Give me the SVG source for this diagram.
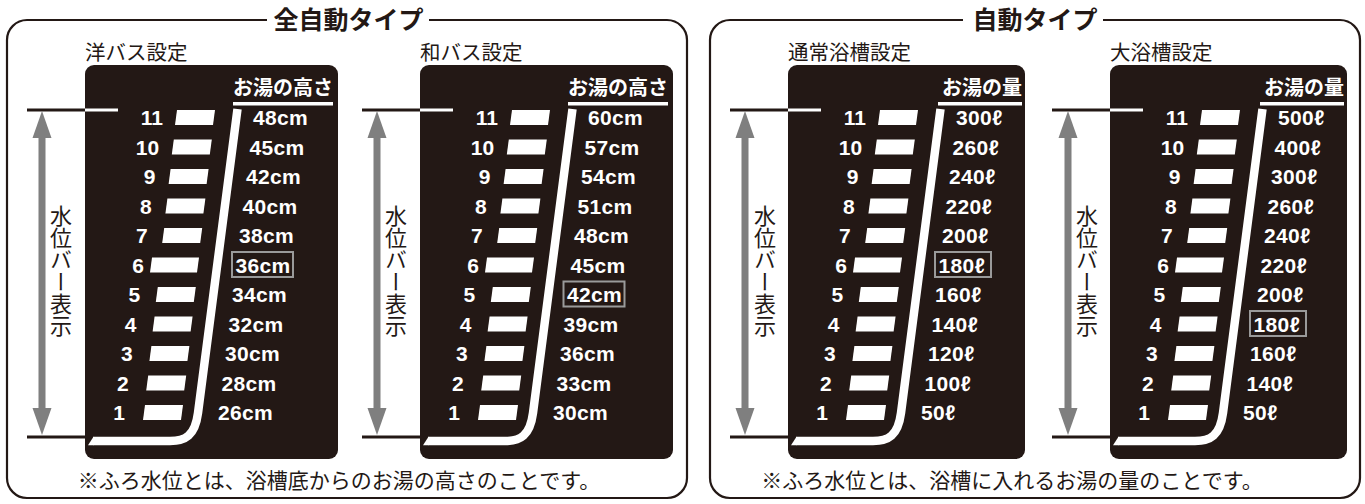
<svg xmlns="http://www.w3.org/2000/svg" xmlns:xlink="http://www.w3.org/1999/xlink" width="1365" height="504" viewBox="0 0 1365 504">
<style>
.frame{fill:none;stroke:#231815;stroke-width:2.2}
.title{font-family:"Noto Sans CJK JP","Noto Sans",sans-serif;font-weight:700;font-size:25px;fill:#231815;text-anchor:middle}
.head{font-family:"Noto Sans CJK JP","Noto Sans",sans-serif;font-size:20.5px;fill:#231815}
.note{font-family:"Noto Sans CJK JP","Noto Sans",sans-serif;font-size:21px;fill:#231815;text-anchor:middle}
.vert{font-family:"Noto Sans CJK JP","Noto Sans",sans-serif;font-size:22px;fill:#231815;writing-mode:vertical-rl}
.box{fill:#231815}
.colh{font-family:"Noto Sans CJK JP","Noto Sans",sans-serif;font-weight:700;font-size:20px;fill:#fff;text-anchor:end}
.num{font-family:"Liberation Sans",Arial,sans-serif;font-weight:700;font-size:21px;fill:#fff;text-anchor:end}
.val{font-family:"Liberation Sans",Arial,"DejaVu Sans",sans-serif;font-weight:700;font-size:21px;fill:#fff;letter-spacing:0.3px}
.hl{fill:none;stroke:#9a9a9a;stroke-width:2}
.lvl{stroke:#231815;stroke-width:3}
.wl{fill:#fff}
.curve{fill:none;stroke:#fff;stroke-width:8.5}
.gray{fill:#7f7f7f}
</style>
<defs>
<g id="bars" class="wl">
<polygon points="90,125 128,125 130,110 92,110"/>
<polygon points="86.8,154.5 124.8,154.5 126.8,139.5 88.8,139.5"/>
<polygon points="83.6,184 121.6,184 123.6,169 85.6,169"/>
<polygon points="80.4,213.5 118.4,213.5 120.4,198.5 82.4,198.5"/>
<polygon points="77.2,243 115.2,243 117.2,228 79.2,228"/>
<polygon points="65,272.5 112,272.5 114,257.5 67,257.5"/>
<polygon points="70.8,302 108.8,302 110.8,287 72.8,287"/>
<polygon points="67.6,331.5 105.6,331.5 107.6,316.5 69.6,316.5"/>
<polygon points="64.4,361 102.4,361 104.4,346 66.4,346"/>
<polygon points="61.2,390.5 99.2,390.5 101.2,375.5 63.2,375.5"/>
<polygon points="58,420 96,420 98,405 60,405"/>
</g>
<g id="waterline">
<rect class="wl" x="0" y="108.5" width="33" height="3"/>
<path class="curve" d="M152.5,109 L113,413 C110,436 100,441 85,441 L8,441"/>
<polygon class="wl" points="3,445.25 8.5,436.75 8.5,445.25"/>
</g>
<g id="vbar" class="gray">
<rect x="-3.5" y="136" width="7" height="274"/>
<polygon points="-9.5,138 0,111 9.5,138"/>
<polygon points="-9.5,408 0,435 9.5,408"/>
</g>
</defs>

<g id="panel-full-auto">
<path class="frame" d="M267,20 H27 A20,20 0 0 0 7,40 V478 A20,20 0 0 0 27,498 H667 A20,20 0 0 0 687,478 V40 A20,20 0 0 0 667,20 H429"/>
<text class="title" x="348.5" y="29">全自動タイプ</text>
<text class="note" x="339" y="488">※ふろ水位とは、浴槽底からのお湯の高さのことです。</text>
</g>

<g id="panel-auto">
<path class="frame" d="M963,20 H730 A20,20 0 0 0 710,40 V478 A20,20 0 0 0 730,498 H1340 A20,20 0 0 0 1360,478 V40 A20,20 0 0 0 1340,20 H1103"/>
<text class="title" x="1035" y="29">自動タイプ</text>
<text class="note" x="1012" y="488">※ふろ水位とは、浴槽に入れるお湯の量のことです。</text>
</g>

<g id="connectors">
<line class="lvl" x1="27" y1="110" x2="85" y2="110"/>
<line class="lvl" x1="27" y1="437" x2="85" y2="437"/>
<use xlink:href="#vbar" href="#vbar" x="42" y="0"/>
<line class="lvl" x1="362" y1="110" x2="420" y2="110"/>
<line class="lvl" x1="362" y1="437" x2="420" y2="437"/>
<use xlink:href="#vbar" href="#vbar" x="377" y="0"/>
<line class="lvl" x1="730" y1="110" x2="788" y2="110"/>
<line class="lvl" x1="730" y1="437" x2="788" y2="437"/>
<use xlink:href="#vbar" href="#vbar" x="745" y="0"/>
<line class="lvl" x1="1052" y1="110" x2="1110" y2="110"/>
<line class="lvl" x1="1052" y1="437" x2="1110" y2="437"/>
<use xlink:href="#vbar" href="#vbar" x="1068" y="0"/>
</g>

<g id="gauge-western" transform="translate(85,0)">
<text class="head" x="0" y="60">洋バス設定</text>
<text class="vert" x="-24" y="205">水位バー表示</text>
<rect class="box" x="0" y="65" width="253" height="394" rx="9"/>
<text class="colh" x="248" y="95">お湯の高さ</text>
<rect class="wl" x="148" y="102" width="100" height="3.5"/>
<use xlink:href="#waterline" href="#waterline"/>
<use xlink:href="#bars" href="#bars"/>
<text class="num" x="78" y="125">11</text>
<text class="num" x="74.2" y="154.5">10</text>
<text class="num" x="70.4" y="184">9</text>
<text class="num" x="66.6" y="213.5">8</text>
<text class="num" x="62.8" y="243">7</text>
<text class="num" x="59" y="272.5">6</text>
<text class="num" x="55.2" y="302">5</text>
<text class="num" x="51.4" y="331.5">4</text>
<text class="num" x="47.6" y="361">3</text>
<text class="num" x="43.8" y="390.5">2</text>
<text class="num" x="40" y="420">1</text>
<text class="val" x="168" y="125">48cm</text>
<text class="val" x="164.5" y="154.5">45cm</text>
<text class="val" x="161" y="184">42cm</text>
<text class="val" x="157.5" y="213.5">40cm</text>
<text class="val" x="154" y="243">38cm</text>
<text class="val" x="150.5" y="272.5">36cm</text>
<text class="val" x="147" y="302">34cm</text>
<text class="val" x="143.5" y="331.5">32cm</text>
<text class="val" x="140" y="361">30cm</text>
<text class="val" x="136.5" y="390.5">28cm</text>
<text class="val" x="133" y="420">26cm</text>
<rect class="hl" x="147" y="252" width="61" height="25"/>
</g>

<g id="gauge-japanese" transform="translate(420,0)">
<text class="head" x="0" y="60">和バス設定</text>
<text class="vert" x="-24" y="205">水位バー表示</text>
<rect class="box" x="0" y="65" width="253" height="394" rx="9"/>
<text class="colh" x="248" y="95">お湯の高さ</text>
<rect class="wl" x="148" y="102" width="100" height="3.5"/>
<use xlink:href="#waterline" href="#waterline"/>
<use xlink:href="#bars" href="#bars"/>
<text class="num" x="78" y="125">11</text>
<text class="num" x="74.2" y="154.5">10</text>
<text class="num" x="70.4" y="184">9</text>
<text class="num" x="66.6" y="213.5">8</text>
<text class="num" x="62.8" y="243">7</text>
<text class="num" x="59" y="272.5">6</text>
<text class="num" x="55.2" y="302">5</text>
<text class="num" x="51.4" y="331.5">4</text>
<text class="num" x="47.6" y="361">3</text>
<text class="num" x="43.8" y="390.5">2</text>
<text class="num" x="40" y="420">1</text>
<text class="val" x="168" y="125">60cm</text>
<text class="val" x="164.5" y="154.5">57cm</text>
<text class="val" x="161" y="184">54cm</text>
<text class="val" x="157.5" y="213.5">51cm</text>
<text class="val" x="154" y="243">48cm</text>
<text class="val" x="150.5" y="272.5">45cm</text>
<text class="val" x="147" y="302">42cm</text>
<text class="val" x="143.5" y="331.5">39cm</text>
<text class="val" x="140" y="361">36cm</text>
<text class="val" x="136.5" y="390.5">33cm</text>
<text class="val" x="133" y="420">30cm</text>
<rect class="hl" x="143.5" y="281.5" width="61" height="25"/>
</g>

<g id="gauge-normal-tub" transform="translate(788,0)">
<text class="head" x="0" y="60">通常浴槽設定</text>
<text class="vert" x="-23" y="205">水位バー表示</text>
<rect class="box" x="0" y="65" width="237" height="394" rx="9"/>
<text class="colh" x="234" y="95">お湯の量</text>
<rect class="wl" x="150" y="102" width="84" height="3.5"/>
<use xlink:href="#waterline" href="#waterline"/>
<use xlink:href="#bars" href="#bars"/>
<text class="num" x="78" y="125">11</text>
<text class="num" x="74.2" y="154.5">10</text>
<text class="num" x="70.4" y="184">9</text>
<text class="num" x="66.6" y="213.5">8</text>
<text class="num" x="62.8" y="243">7</text>
<text class="num" x="59" y="272.5">6</text>
<text class="num" x="55.2" y="302">5</text>
<text class="num" x="51.4" y="331.5">4</text>
<text class="num" x="47.6" y="361">3</text>
<text class="num" x="43.8" y="390.5">2</text>
<text class="num" x="40" y="420">1</text>
<text class="val" x="168" y="125">300ℓ</text>
<text class="val" x="164.5" y="154.5">260ℓ</text>
<text class="val" x="161" y="184">240ℓ</text>
<text class="val" x="157.5" y="213.5">220ℓ</text>
<text class="val" x="154" y="243">200ℓ</text>
<text class="val" x="150.5" y="272.5">180ℓ</text>
<text class="val" x="147" y="302">160ℓ</text>
<text class="val" x="143.5" y="331.5">140ℓ</text>
<text class="val" x="140" y="361">120ℓ</text>
<text class="val" x="136.5" y="390.5">100ℓ</text>
<text class="val" x="133" y="420">50ℓ</text>
<rect class="hl" x="147" y="252" width="56" height="25"/>
</g>

<g id="gauge-large-tub" transform="translate(1110,0)">
<text class="head" x="0" y="60">大浴槽設定</text>
<text class="vert" x="-23" y="205">水位バー表示</text>
<rect class="box" x="0" y="65" width="237" height="394" rx="9"/>
<text class="colh" x="234" y="95">お湯の量</text>
<rect class="wl" x="150" y="102" width="84" height="3.5"/>
<use xlink:href="#waterline" href="#waterline"/>
<use xlink:href="#bars" href="#bars"/>
<text class="num" x="78" y="125">11</text>
<text class="num" x="74.2" y="154.5">10</text>
<text class="num" x="70.4" y="184">9</text>
<text class="num" x="66.6" y="213.5">8</text>
<text class="num" x="62.8" y="243">7</text>
<text class="num" x="59" y="272.5">6</text>
<text class="num" x="55.2" y="302">5</text>
<text class="num" x="51.4" y="331.5">4</text>
<text class="num" x="47.6" y="361">3</text>
<text class="num" x="43.8" y="390.5">2</text>
<text class="num" x="40" y="420">1</text>
<text class="val" x="168" y="125">500ℓ</text>
<text class="val" x="164.5" y="154.5">400ℓ</text>
<text class="val" x="161" y="184">300ℓ</text>
<text class="val" x="157.5" y="213.5">260ℓ</text>
<text class="val" x="154" y="243">240ℓ</text>
<text class="val" x="150.5" y="272.5">220ℓ</text>
<text class="val" x="147" y="302">200ℓ</text>
<text class="val" x="143.5" y="331.5">180ℓ</text>
<text class="val" x="140" y="361">160ℓ</text>
<text class="val" x="136.5" y="390.5">140ℓ</text>
<text class="val" x="133" y="420">50ℓ</text>
<rect class="hl" x="140" y="311" width="56" height="25"/>
</g>
</svg>
